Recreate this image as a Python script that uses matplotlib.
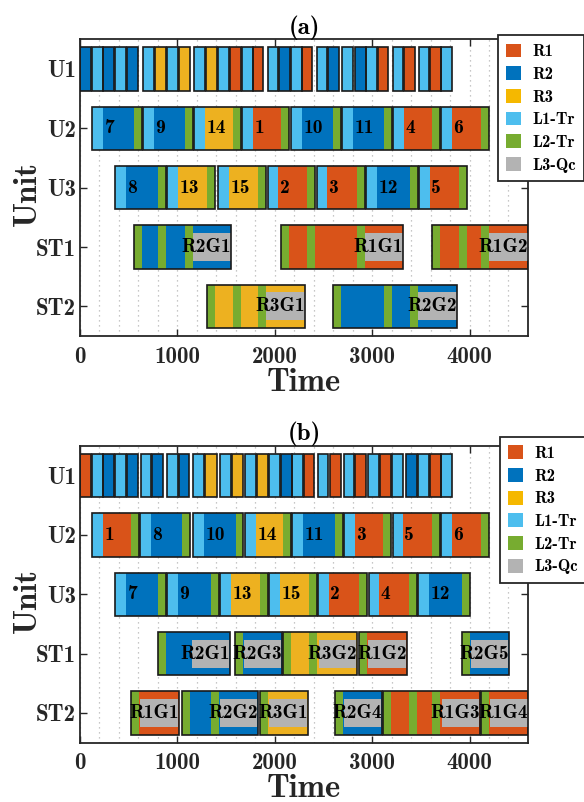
import matplotlib as mpl
mpl.use('Agg')
import numpy as np
import matplotlib.pyplot as plt
from matplotlib.patches import Patch

plt.rcParams['font.family'] = ['cmb10', 'DejaVu Serif']
plt.rcParams['axes.unicode_minus'] = False

units = ['U1', 'U2', 'U3', 'ST1', 'ST2']
colors = {'R1': '#D95319', 'R2': '#0072BD', 'R3': '#EDB120',
          'L1': '#4DBEEE', 'L2': '#77AC30', 'Qc': '#B3B3B3'}
legend_keys = ['R1', 'R2', 'R3', 'L1', 'L2', 'Qc']
legend_names = ['R1', 'R2', 'R3', 'L1-Tr', 'L2-Tr', 'L3-Qc']

# ---------------- panel (a) ----------------
a_U1 = [('R2', 0, 113), ('L1', 123, 236), ('R2', 236, 349), ('L1', 359, 472), ('R2', 483, 596),
        ('L1', 647, 760), ('R3', 770, 883), ('L1', 893, 1006), ('R3', 1017, 1130),
        ('L1', 1171, 1284), ('R3', 1294, 1407), ('L1', 1417, 1530), ('R1', 1541, 1653),
        ('L1', 1664, 1777), ('R1', 1777, 1880),
        ('L1', 1931, 2034), ('R2', 2044, 2157), ('L1', 2167, 2280), ('R1', 2280, 2383),
        ('L1', 2434, 2537), ('R2', 2547, 2660),
        ('L1', 2691, 2804),
        ('R2', 2824, 2937), ('L1', 2937, 3050), ('R1', 3060, 3163),
        ('L1', 3214, 3317), ('R1', 3327, 3440),
        ('L1', 3481, 3584), ('R1', 3594, 3707), ('L1', 3707, 3820)]

a_U2 = [('7', [('L1', 123, 236), ('R2', 236, 555), ('L2', 555, 637)]),
        ('9', [('L1', 647, 760), ('R2', 760, 1078), ('L2', 1078, 1160)]),
        ('14', [('L1', 1171, 1284), ('R3', 1284, 1571), ('L2', 1571, 1654)]),
        ('1', [('L1', 1664, 1777), ('R1', 1777, 2064), ('L2', 2064, 2147)]),
        ('10', [('L1', 2167, 2280), ('R2', 2280, 2598), ('L2', 2598, 2680)]),
        ('11', [('L1', 2691, 2804), ('R2', 2804, 3122), ('L2', 3122, 3204)]),
        ('4', [('L1', 3214, 3327), ('R1', 3327, 3615), ('L2', 3615, 3697)]),
        ('6', [('L1', 3707, 3820), ('R1', 3820, 4119), ('L2', 4119, 4200)])]

a_U3 = [('8', [('L1', 359, 472), ('R2', 472, 801), ('L2', 801, 883)]),
        ('13', [('L1', 893, 1006), ('R3', 1006, 1304), ('L2', 1304, 1386)]),
        ('15', [('L1', 1417, 1530), ('R3', 1530, 1828), ('L2', 1828, 1910)]),
        ('2', [('L1', 1931, 2034), ('R1', 2034, 2331), ('L2', 2331, 2414)]),
        ('3', [('L1', 2434, 2537), ('R1', 2537, 2845), ('L2', 2845, 2927)]),
        ('12', [('L1', 2937, 3050), ('R2', 3050, 3389), ('L2', 3389, 3471)]),
        ('5', [('L1', 3481, 3594), ('R1', 3594, 3892), ('L2', 3892, 3974)])]

a_ST1 = [('R2G1', [('L2', 555, 637), ('R2', 637, 801), ('L2', 801, 883), ('R2', 883, 1078),
                   ('L2', 1078, 1160), ('R2', 1160, 1555), ('Qc', 1160, 1555)]),
         ('R1G1', [('L2', 2064, 2147), ('R1', 2147, 2331), ('L2', 2331, 2414), ('R1', 2414, 2845),
                   ('L2', 2845, 2927), ('R1', 2927, 3322), ('Qc', 2927, 3322)]),
         ('R1G2', [('L2', 3615, 3697), ('R1', 3697, 3892), ('L2', 3892, 3974), ('R1', 3974, 4119),
                   ('L2', 4119, 4200), ('R1', 4200, 4600), ('Qc', 4200, 4600)])]

a_ST2 = [('R3G1', [('L2', 1304, 1386), ('R3', 1386, 1571), ('L2', 1571, 1654), ('R3', 1654, 1828),
                   ('L2', 1828, 1910), ('R3', 1910, 2315), ('Qc', 1910, 2315)]),
         ('R2G2', [('L2', 2598, 2680), ('R2', 2680, 3122), ('L2', 3122, 3204), ('R2', 3204, 3389),
                   ('L2', 3389, 3471), ('R2', 3471, 3871), ('Qc', 3471, 3871)])]

# ---------------- panel (b) ----------------
b_U1 = [('R1', 0, 113), ('L1', 123, 236), ('R2', 236, 349), ('L1', 359, 472), ('R2', 483, 596),
        ('L1', 626, 729), ('R2', 739, 852),
        ('L1', 893, 1006), ('R2', 1017, 1119),
        ('L1', 1160, 1273), ('R3', 1284, 1407),
        ('L1', 1438, 1551), ('R3', 1561, 1674),
        ('L1', 1695, 1808), ('R3', 1818, 1931), ('L1', 1941, 2054), ('R2', 2064, 2177),
        ('L1', 2177, 2290), ('R1', 2300, 2403),
        ('L1', 2444, 2547), ('R1', 2567, 2680),
        ('L1', 2711, 2814), ('R1', 2824, 2937),
        ('L1', 2958, 3071), ('R1', 3081, 3194),
        ('L1', 3204, 3317),
        ('R2', 3348, 3461), ('L1', 3471, 3584), ('R1', 3594, 3707), ('L1', 3707, 3820)]

b_U2 = [('1', [('L1', 123, 236), ('R1', 236, 524), ('L2', 524, 606)]),
        ('8', [('L1', 616, 729), ('R2', 729, 1047), ('L2', 1047, 1130)]),
        ('10', [('L1', 1160, 1273), ('R2', 1273, 1602), ('L2', 1602, 1674)]),
        ('14', [('L1', 1695, 1808), ('R3', 1808, 2085), ('L2', 2085, 2167)]),
        ('11', [('L1', 2177, 2290), ('R2', 2290, 2619), ('L2', 2619, 2701)]),
        ('3', [('L1', 2711, 2824), ('R1', 2824, 3112), ('L2', 3112, 3194)]),
        ('5', [('L1', 3214, 3317), ('R1', 3317, 3615), ('L2', 3615, 3697)]),
        ('6', [('L1', 3707, 3820), ('R1', 3820, 4119), ('L2', 4119, 4200)])]

b_U3 = [('7', [('L1', 359, 472), ('R2', 472, 801), ('L2', 801, 883)]),
        ('9', [('L1', 893, 1006), ('R2', 1006, 1345), ('L2', 1345, 1427)]),
        ('13', [('L1', 1438, 1551), ('R3', 1551, 1849), ('L2', 1849, 1931)]),
        ('15', [('L1', 1941, 2054), ('R3', 2054, 2352), ('L2', 2352, 2434)]),
        ('2', [('L1', 2444, 2557), ('R1', 2557, 2865), ('L2', 2865, 2947)]),
        ('4', [('L1', 2968, 3071), ('R1', 3071, 3379), ('L2', 3379, 3461)]),
        ('12', [('L1', 3471, 3584), ('R2', 3584, 3923), ('L2', 3923, 4005)])]

b_ST1 = [('R2G1', [('L2', 801, 883), ('R2', 883, 1540), ('Qc', 1150, 1535)]),
         ('R2G3', [('L2', 1592, 1674), ('R2', 1674, 2074), ('Qc', 1684, 2064)]),
         ('R3G2', [('L2', 2085, 2167), ('R3', 2167, 2352), ('L2', 2352, 2434), ('R3', 2434, 2845),
                   ('Qc', 2455, 2835)]),
         ('R1G2', [('L2', 2865, 2947), ('R1', 2947, 3358), ('Qc', 2958, 3348)]),
         ('R2G5', [('L2', 3923, 4005), ('R2', 4005, 4406), ('Qc', 4015, 4396)])]

b_ST2 = [('R1G1', [('L2', 524, 606), ('R1', 606, 1017), ('Qc', 616, 1007)]),
         ('R2G2', [('L2', 1047, 1130), ('R2', 1130, 1345), ('L2', 1345, 1427), ('R2', 1427, 1828),
                   ('Qc', 1438, 1818)]),
         ('R3G1', [('L2', 1849, 1931), ('R3', 1931, 2342), ('Qc', 1941, 2332)]),
         ('R2G4', [('L2', 2619, 2701), ('R2', 2701, 3101), ('Qc', 2711, 3091)]),
         ('R1G3', [('L2', 3112, 3194), ('R1', 3194, 3379), ('L2', 3379, 3461), ('R1', 3461, 3615),
                   ('L2', 3615, 3697), ('R1', 3697, 4108), ('Qc', 3717, 4098)]),
         ('R1G4', [('L2', 4119, 4200), ('R1', 4200, 4600), ('Qc', 4210, 4600)])]

H = 0.73     # bar height
HQ = 0.47    # quality-control bar height
EDGE = '#1a1a1a'


def draw_job(ax, y, label, segs, unit):
    for kind, s, e in segs:
        h = HQ if kind == 'Qc' else H
        ax.barh(y, e - s, left=s, height=h, color=colors[kind], edgecolor='none',
                zorder=3 if kind == 'Qc' else 2)
    start = min(s for _, s, _ in segs)
    end = max(e for _, _, e in segs)
    ax.barh(y, end - start, left=start, height=H, fill=False, edgecolor=EDGE,
            linewidth=1.2, zorder=4)
    if not label:
        return
    if unit.startswith('U'):
        rs = [s for k, s, _ in segs if k.startswith('R')][0]
        ax.text(rs + 15, y, label, ha='left', va='center', fontsize=14, zorder=5)
    else:
        ax.text(end, y, label, ha='right', va='center', fontsize=14, zorder=5)


def draw_panel(ax, rows, title):
    for yi, unit in enumerate(units, start=1):
        if unit == 'U1':
            for kind, s, e in rows[unit]:
                draw_job(ax, yi, '', [(kind, s, e)], unit)
        else:
            for label, segs in rows[unit]:
                draw_job(ax, yi, label, segs, unit)
    ax.set_xlim(0, 4600)
    ax.set_ylim(5.5, 0.5)
    ax.set_yticks(range(1, 6))
    ax.set_yticklabels(units)
    ax.set_xticks([0, 1000, 2000, 3000, 4000])
    ax.set_xticks(np.arange(0, 4601, 200), minor=True)
    ax.grid(True, axis='x', which='both', color='#b5b5b5', linestyle=(0, (1, 3)), linewidth=0.9)
    ax.set_axisbelow(True)
    ax.tick_params(which='major', direction='in', top=True, right=True, length=5,
                   width=1, labelsize=16.5, colors='#262626')
    ax.tick_params(axis='x', which='major', pad=7)
    ax.tick_params(axis='y', which='major', pad=3)
    ax.tick_params(which='minor', length=0)
    for sp in ax.spines.values():
        sp.set_linewidth(1.3)
        sp.set_color('#262626')
    ax.set_xlabel('Time', fontsize=23.5, labelpad=0, color='#262626')
    ax.set_ylabel('Unit', fontsize=23.5, color='#262626')
    ax.yaxis.set_label_coords(-0.085, 0.48)
    ax.set_title(title, fontsize=18, pad=4)


fig = plt.figure(figsize=(5.84, 8.02), dpi=100)
ax_a = fig.add_axes([0.137, 0.581, 0.767, 0.370])
ax_b = fig.add_axes([0.137, 0.074, 0.767, 0.370])

draw_panel(ax_a, {'U1': a_U1, 'U2': a_U2, 'U3': a_U3, 'ST1': a_ST1, 'ST2': a_ST2}, '(a)')
draw_panel(ax_b, {'U1': b_U1, 'U2': b_U2, 'U3': b_U3, 'ST1': b_ST1, 'ST2': b_ST2}, '(b)')

handles = [Patch(facecolor=colors[k], edgecolor='none') for k in legend_keys]
handles[2] = Patch(facecolor='#F5B800', edgecolor='none')
for anchor in [(0.853, 0.956), (0.856, 0.455)]:
    leg = fig.legend(handles, legend_names, loc='upper left', bbox_to_anchor=anchor,
                     bbox_transform=fig.transFigure, borderaxespad=0, fontsize=12,
                     handlelength=0.9, handleheight=0.9, handletextpad=0.65,
                     labelspacing=0.42, borderpad=0.5, fancybox=False, framealpha=1)
    leg.get_frame().set_edgecolor('#262626')
    leg.get_frame().set_linewidth(1.3)

fig.savefig('out.png', dpi=100)
